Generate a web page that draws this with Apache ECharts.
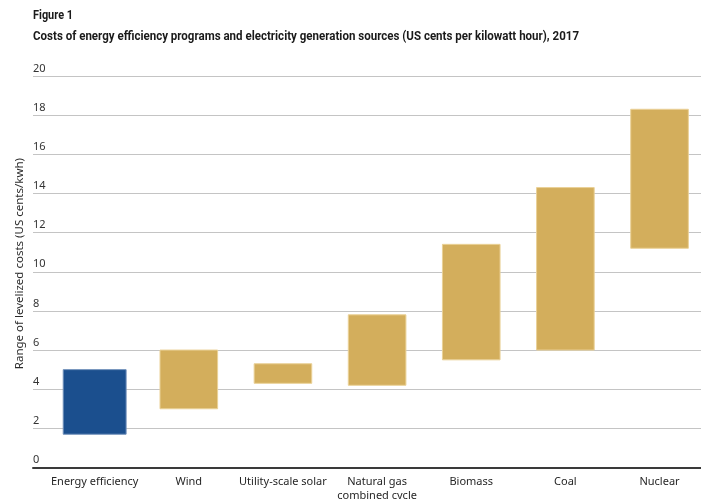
<!DOCTYPE html>
<html>
<head>
<meta charset="utf-8">
<script src="https://cdn.jsdelivr.net/npm/echarts@6/dist/echarts.min.js"></script>
<style>
  html, body { margin: 0; padding: 0; background: #fff; }
  #chart { width: 701px; height: 499px; }
</style>
</head>
<body>
<div id="chart"></div>
<script>
// Levelized cost ranges, US cents per kWh (2017)
const categories = ['Energy efficiency', 'Wind', 'Utility-scale solar', 'Natural gas\ncombined cycle', 'Biomass', 'Coal', 'Nuclear'];
const lowCost  = [1.7, 3.0, 4.3, 4.2, 5.5, 6.0, 11.2];
const highCost = [5.0, 6.0, 5.3, 7.8, 11.4, 14.3, 18.3];
const yTicks = [0, 2, 4, 6, 8, 10, 12, 14, 16, 18, 20];

const figureLabel = 'Figure 1';
const chartTitle = 'Costs of energy efficiency programs and electricity generation sources (US cents per kilowatt hour), 2017';
const yAxisTitle = 'Range of levelized costs (US cents/kwh)';

const labelFont = '"Noto Sans", "Open Sans", sans-serif';
const titleFamily = 'Roboto, "Noto Sans", sans-serif';

// Heading is set in a condensed bold face: squeeze a regular bold font horizontally
function condensedScale(text, font, targetWidth) {
  const ctx = document.createElement('canvas').getContext('2d');
  ctx.font = font;
  return targetWidth / ctx.measureText(text).width;
}
const figFont = 'bold 13px ' + titleFamily;
const subFont = 'bold 12.5px ' + titleFamily;
const figScale = condensedScale(figureLabel, figFont, 40);
const subScale = condensedScale(chartTitle, subFont, 546);

const rangeData = categories.map((c, i) => [i, lowCost[i], highCost[i]]);

const chart = echarts.init(document.getElementById('chart'), null, { renderer: 'canvas' });

chart.setOption({
  animation: false,
  backgroundColor: '#ffffff',
  graphic: [
    { type: 'text', x: 33, y: 16, scaleX: figScale,
      style: { text: figureLabel, font: figFont, fill: '#1a1a1a', verticalAlign: 'middle' } },
    { type: 'text', x: 33, y: 37, scaleX: subScale,
      style: { text: chartTitle, font: subFont, fill: '#1a1a1a', verticalAlign: 'middle' } },
    { type: 'text', left: 14, top: 158, rotation: Math.PI / 2,
      style: { text: yAxisTitle, font: '11.5px ' + labelFont, fill: '#2b2b2b' } }
  ],
  grid: [
    // axis frame: gridlines and tick labels
    { left: 33, right: 0, top: 76, bottom: 31.5, outerBoundsMode: 'none' },
    // bar area: one band per category
    { left: 47.6, width: 659, top: 76, bottom: 31.5, outerBoundsMode: 'none' }
  ],
  xAxis: [
    { gridIndex: 0, type: 'category', data: [''],
      axisLine: { show: true, lineStyle: { color: '#3a3a3a', width: 2 } },
      axisTick: { show: false }, axisLabel: { show: false }, splitLine: { show: false } },
    { gridIndex: 1, type: 'category', data: categories, boundaryGap: true,
      axisLine: { show: false }, axisTick: { show: false },
      axisLabel: { interval: 0, margin: 7, fontFamily: labelFont, fontSize: 11, color: '#262626', lineHeight: 14 } }
  ],
  yAxis: [
    { gridIndex: 0, type: 'value', min: 0, max: 20, interval: 2,
      axisLine: { show: false }, axisTick: { show: false },
      axisLabel: {
        inside: true, margin: 0, verticalAlign: 'bottom', padding: [0, 0, 2, 0],
        fontFamily: labelFont, fontSize: 11, color: '#333',
        formatter: v => (yTicks.indexOf(v) >= 0 ? String(v) : '')
      },
      splitLine: { show: true, lineStyle: { color: '#c4c4c4', width: 1 } } },
    { gridIndex: 1, type: 'value', min: 0, max: 20, show: false, splitLine: { show: false } }
  ],
  series: [{
    type: 'custom',
    xAxisIndex: 1,
    yAxisIndex: 1,
    data: rangeData,
    renderItem: function (params, api) {
      const idx = api.value(0);
      const lo = api.coord([idx, api.value(1)]);
      const hi = api.coord([idx, api.value(2)]);
      const band = api.size([1, 0])[0];
      const isEfficiency = idx === 0;
      const w = band * (isEfficiency ? 0.668 : 0.612);
      return {
        type: 'rect',
        shape: { x: lo[0] - w / 2, y: hi[1], width: w, height: lo[1] - hi[1] },
        style: {
          fill: isEfficiency ? '#1b4f8e' : '#d3ae5c',
          stroke: isEfficiency ? '#6f8fba' : '#ead197',
          lineWidth: 1
        }
      };
    }
  }]
});
</script>
</body>
</html>
